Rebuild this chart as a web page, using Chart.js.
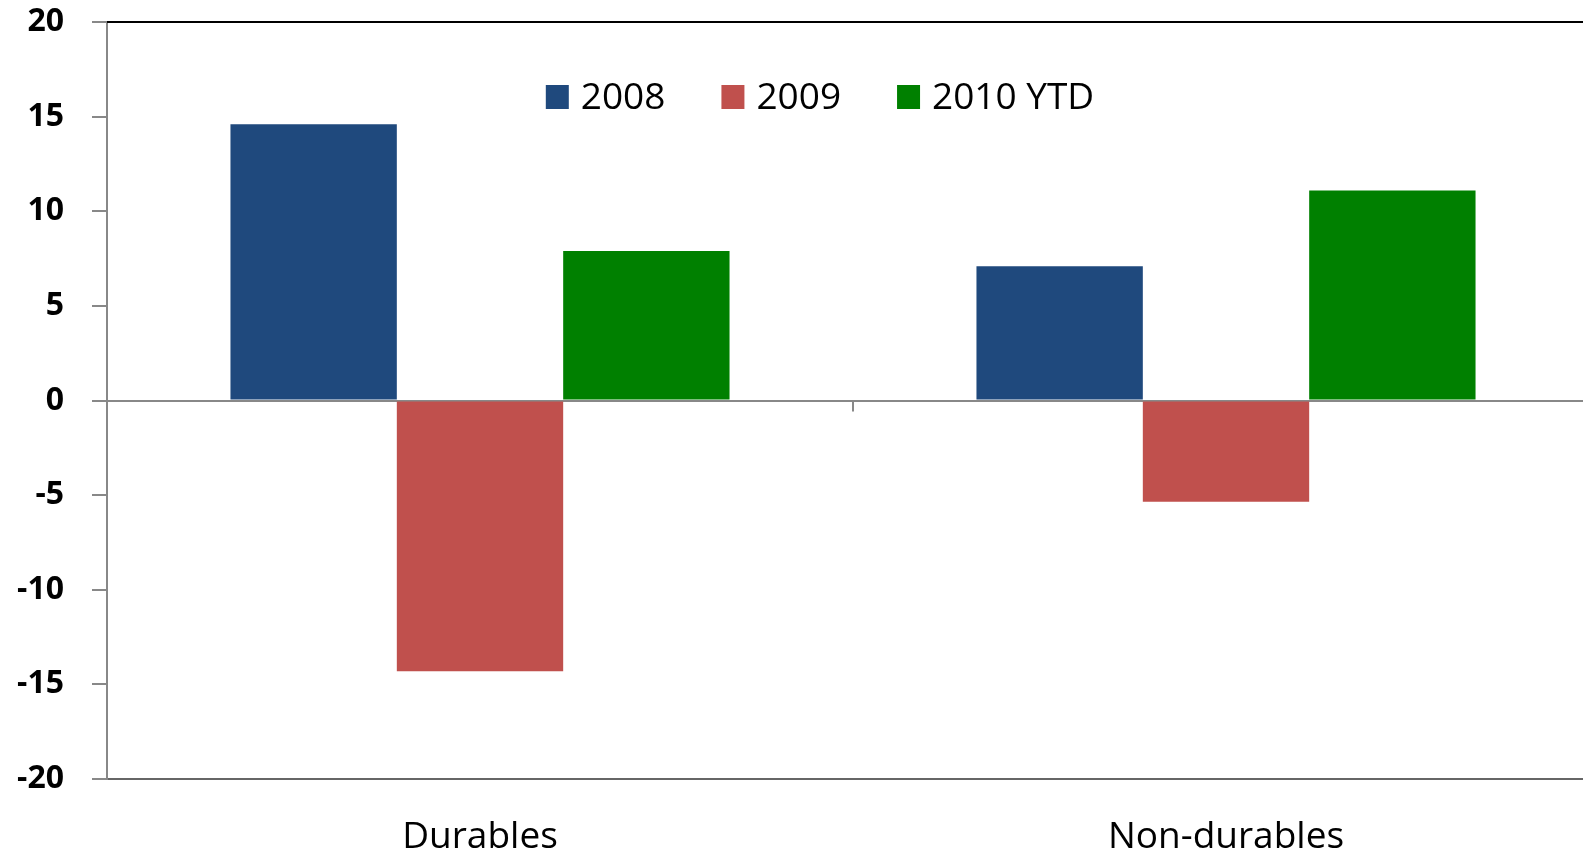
<!DOCTYPE html>
<html>
<head>
<meta charset="utf-8">
<script src="https://cdn.jsdelivr.net/npm/chart.js@4"></script>
<style>
  html, body { margin: 0; padding: 0; background: #fff; overflow: hidden; }
  #wrap { width: 1600px; height: 849px; position: relative; }
</style>
</head>
<body>
<div id="wrap"><canvas id="myChart"></canvas></div>
<script>
// Data for the chart
const categories = ["Durables", "Non-durables"];
const seriesNames = ["2008", "2009", "2010 YTD"];
const values2008 = [14.6, 7.1];
const values2009 = [-14.3, -5.35];
const values2010 = [7.9, 11.1];
const seriesColors = ["#1F497D", "#C0504D", "#008000"];

const fontFamily = "'Open Sans', 'DejaVu Sans', sans-serif";

// Top frame line, category separator tick on the zero line, in-plot legend
const frameAndLegend = {
  id: "frameAndLegend",
  afterDraw(chart) {
    const { ctx, chartArea, scales } = chart;
    ctx.save();
    ctx.strokeStyle = "#000";
    ctx.lineWidth = 2;
    ctx.beginPath();
    ctx.moveTo(chartArea.left, chartArea.top);
    ctx.lineTo(chartArea.right, chartArea.top);
    ctx.stroke();

    // tick between the categories, hanging from the zero line
    const zeroY = scales.y.getPixelForValue(0);
    ctx.strokeStyle = "#888";
    for (let i = 1; i < categories.length; i++) {
      const sx = Math.round((scales.x.getPixelForValue(i - 1) + scales.x.getPixelForValue(i)) / 2);
      ctx.beginPath();
      ctx.moveTo(sx, zeroY);
      ctx.lineTo(sx, zeroY + 11);
      ctx.stroke();
    }

    // legend row, centred a bit left of the plot centre
    const boxW = 23, boxH = 24, gap = 12, spacing = 56;
    ctx.font = "37px " + fontFamily;
    const items = chart.data.datasets.map(ds => ({
      label: ds.label,
      color: ds.backgroundColor,
      w: boxW + gap + ctx.measureText(ds.label).width
    }));
    const total = items.reduce((s, it) => s + it.w, 0) + spacing * (items.length - 1);
    let x = (chartArea.left + chartArea.right) / 2 - 33 - total / 2;
    const y = chartArea.top + 75;
    ctx.textBaseline = "middle";
    ctx.textAlign = "left";
    items.forEach(it => {
      ctx.fillStyle = it.color;
      ctx.fillRect(x, y - boxH / 2, boxW, boxH);
      ctx.fillStyle = "#000";
      ctx.fillText(it.label, x + boxW + gap, y + 1);
      x += it.w + spacing;
    });
    ctx.restore();
  }
};

const data = {
  labels: categories,
  datasets: [
    { label: seriesNames[0], data: values2008, backgroundColor: seriesColors[0] },
    { label: seriesNames[1], data: values2009, backgroundColor: seriesColors[1] },
    { label: seriesNames[2], data: values2010, backgroundColor: seriesColors[2] }
  ]
};

const config = {
  type: "bar",
  data: data,
  plugins: [frameAndLegend],
  options: {
    responsive: true,
    maintainAspectRatio: false,
    animation: false,
    categoryPercentage: 0.669,
    barPercentage: 1.0,
    layout: { padding: { top: 22, left: 0, right: 1, bottom: 0 } },
    plugins: {
      legend: { display: false },
      tooltip: { enabled: false }
    },
    scales: {
      x: {
        position: "bottom",
        offset: true,
        grid: { display: false },
        border: { display: true, color: "#666", width: 2 },
        ticks: {
          padding: 28,
          color: "#000",
          font: { family: fontFamily, size: 37 }
        },
        afterFit(scale) { scale.height = 70; }
      },
      y: {
        min: -20,
        max: 20,
        ticks: {
          stepSize: 5,
          padding: 28,
          color: "#000",
          font: { family: fontFamily, size: 32, weight: "bold" }
        },
        grid: {
          color: (ctx) => (ctx.tick && ctx.tick.value === 0 ? "#888" : "rgba(0,0,0,0)"),
          lineWidth: 2,
          tickLength: 15,
          tickColor: "#888"
        },
        border: { display: true, color: "#888", width: 2 },
        afterFit(scale) {
          scale.width = 107;
          scale.paddingTop = 0;
          scale.paddingBottom = 0;
        }
      }
    }
  }
};

// Render chart
const myChart = new Chart(document.getElementById("myChart"), config);
</script>
</body>
</html>
